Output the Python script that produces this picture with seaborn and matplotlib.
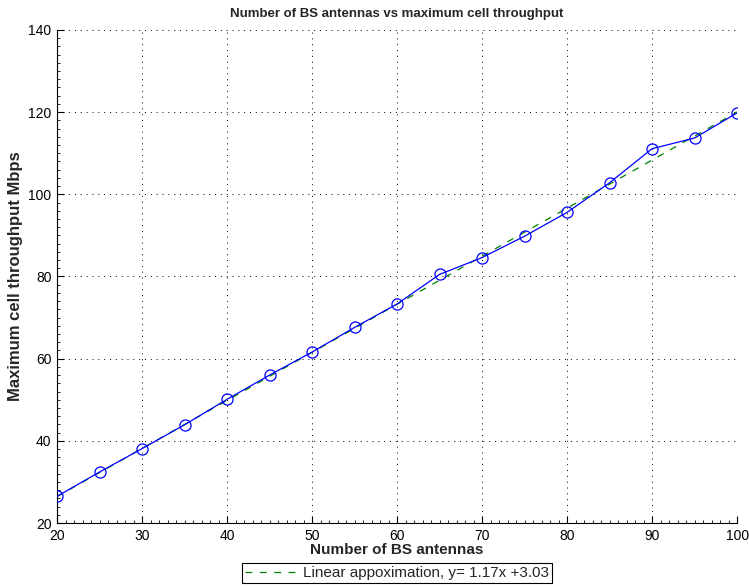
import numpy as np
import pandas as pd
import matplotlib
matplotlib.use("Agg")
import matplotlib.pyplot as plt
from matplotlib.ticker import MultipleLocator
import seaborn as sns

# Measured maximum cell throughput per number of base-station antennas
antennas = [20, 25, 30, 35, 40, 45, 50, 55, 60, 65, 70, 75, 80, 85, 90, 95, 100]
throughput = [26.5, 32.4, 38.1, 43.9, 50.1, 56.0, 61.6, 67.6, 73.3, 80.5,
              84.6, 89.8, 95.6, 102.8, 111.1, 113.7, 119.8]

# Least-squares fit coefficients shown in the legend
fit_slope = 1.17
fit_intercept = 3.03

title = "Number of BS antennas vs maximum cell throughput"
xlabel = "Number of BS antennas"
ylabel = "Maximum cell throughput Mbps"
xticks = [20, 30, 40, 50, 60, 70, 80, 90, 100]
yticks = [20, 40, 60, 80, 100, 120, 140]

sns.set_theme(style="white")
plt.rcParams["font.family"] = ["Liberation Sans", "DejaVu Sans"]

df = pd.DataFrame({"antennas": antennas, "throughput": throughput})
fit_x = np.array([antennas[0], antennas[-1]], dtype=float)
fit_df = pd.DataFrame({"antennas": fit_x,
                       "throughput": fit_slope * fit_x + fit_intercept})

fig = plt.figure(figsize=(7.49, 5.87), dpi=100)
ax = fig.add_axes([0.0761, 0.109, 0.908, 0.840])

sns.lineplot(data=df, x="antennas", y="throughput", ax=ax, color="#0000ff",
             linewidth=0.9, marker="o", markersize=8, markerfacecolor="none",
             markeredgecolor="#0000ff", markeredgewidth=0.9, zorder=3)
sns.lineplot(data=fit_df, x="antennas", y="throughput", ax=ax,
             color="#008000", linewidth=0.9, zorder=2,
             label=f"Linear appoximation, y= {fit_slope}x +{fit_intercept}")
fit_line = ax.lines[-1]
fit_line.set_dashes((5.5, 6))

ax.set_xlim(20, 100)
ax.set_ylim(20, 140)
ax.set_xticks(xticks)
ax.set_yticks(yticks)
ax.xaxis.set_minor_locator(MultipleLocator(1))
ax.yaxis.set_minor_locator(MultipleLocator(2))

ax.grid(True, which="major", color="black", linestyle=(0, (1, 5)),
        linewidth=0.7)
ax.set_axisbelow(True)

for side in ("top", "right"):
    ax.spines[side].set_visible(False)
for side in ("left", "bottom"):
    ax.spines[side].set_color("black")
    ax.spines[side].set_linewidth(0.8)

ax.tick_params(which="major", direction="in", length=5, width=0.8,
               colors="black", labelsize=10, pad=4)
ax.tick_params(which="minor", direction="in", length=2.5, width=0.6,
               colors="black")
ax.tick_params(axis="both", which="both", left=True, bottom=True)

ax.set_title(title, fontsize=9.5, fontweight="bold", pad=9)
ax.set_xlabel(xlabel, fontsize=11, fontweight="bold", labelpad=0)
ax.set_ylabel(ylabel, fontsize=12, fontweight="bold", labelpad=4)

leg = ax.legend(handles=[fit_line], loc="upper center",
                bbox_to_anchor=(0.5, -0.081), fontsize=11, frameon=True,
                fancybox=False, framealpha=1, edgecolor="black",
                borderpad=0.2, handlelength=3.4, handletextpad=0.35,
                borderaxespad=0)
leg.get_frame().set_linewidth(0.8)

fig.savefig("out.png", dpi=100, facecolor="white")
